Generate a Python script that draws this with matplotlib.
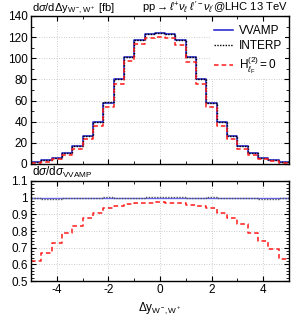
import matplotlib
matplotlib.use("Agg")
import matplotlib.pyplot as plt
import numpy as np
from matplotlib.ticker import MultipleLocator

# bin edges of Delta y (W-, W+)
edges = np.arange(-5.0, 5.01, 0.4)

# d sigma / d Delta y [fb]
vvamp = [1.5, 3.5, 6.0, 10.5, 17.0, 26.5, 40.0, 58.0, 80.0, 101.0, 117.0, 123.0, 124.0,
         123.0, 117.0, 101.0, 80.0, 58.0, 40.0, 26.5, 17.0, 10.5, 6.0, 3.5, 1.5]
interp = [1.5, 3.5, 6.0, 10.5, 17.0, 26.4, 39.8, 58.2, 80.0, 101.0, 117.2, 123.3, 124.3,
          123.3, 117.2, 101.0, 80.2, 57.7, 39.8, 26.5, 17.0, 10.4, 6.0, 3.5, 1.5]
h2zero = [0.9, 2.3, 4.4, 8.3, 14.1, 23.2, 36.2, 54.2, 76.0, 97.0, 113.1, 119.3, 120.5,
          119.3, 112.9, 96.7, 76.0, 54.2, 36.2, 23.2, 14.3, 8.2, 4.4, 2.4, 0.95]

# ratios to VVAMP
r_vvamp = [1.0] * 25
r_interp = [1.0, 0.993, 0.993, 1.0, 1.0, 0.995, 0.995, 1.003, 1.0, 1.0, 1.0, 1.002, 1.002,
            1.002, 1.002, 1.0, 1.0, 1.003, 0.995, 0.995, 1.0, 1.0, 0.993, 0.993, 1.0]
r_h2zero = [0.62, 0.67, 0.73, 0.79, 0.83, 0.875, 0.905, 0.935, 0.95, 0.96, 0.967, 0.97, 0.972,
            0.97, 0.965, 0.957, 0.95, 0.935, 0.905, 0.875, 0.84, 0.785, 0.74, 0.69, 0.635]

plt.rcParams['font.family'] = ['Liberation Sans', 'DejaVu Sans']
plt.rcParams['font.size'] = 8
plt.rcParams['mathtext.fontset'] = 'custom'
plt.rcParams['mathtext.rm'] = 'Liberation Sans'
plt.rcParams['mathtext.it'] = 'Liberation Sans:italic'
plt.rcParams['mathtext.bf'] = 'Liberation Sans:bold'
plt.rcParams['mathtext.sf'] = 'Liberation Sans'
plt.rcParams['mathtext.fallback'] = 'stixsans'

fig = plt.figure(figsize=(3.01, 3.16), dpi=100)
W, H = 301.0, 316.0
ax1 = fig.add_axes([31 / W, 1 - 164 / H, 258 / W, 148 / H])
ax2 = fig.add_axes([31 / W, 1 - 281 / H, 258 / W, 100 / H])

def stairs(ax, vals, **kw):
    v = list(vals) + [vals[-1]]
    return ax.step(edges, v, where='post', **kw)

blue = '#1a1acc'
stairs(ax1, vvamp, color=blue, lw=1.1, label='VVAMP')
stairs(ax1, interp, color='black', lw=1.0, ls=(0, (1, 1)), label='INTERP')
stairs(ax1, h2zero, color='#ff1a1a', lw=1.1, ls=(0, (3, 2)),
       label=r'$\mathrm{H}^{(2)}_{\ell_{\mathrm{F}}}=0$')

stairs(ax2, r_vvamp, color='#6666ee', lw=1.0)
stairs(ax2, r_interp, color='#555555', lw=1.0, ls=(0, (1, 1)))
stairs(ax2, r_h2zero, color='#ff1a1a', lw=1.1, ls=(0, (3, 2)))

for ax in (ax1, ax2):
    ax.set_xlim(-5, 5)
    ax.xaxis.set_major_locator(MultipleLocator(2))
    ax.xaxis.set_minor_locator(MultipleLocator(1))
    ax.tick_params(which='both', direction='in', top=True, right=True, labelsize=8.5, pad=2.5)
    ax.tick_params(which='major', length=3.5)
    ax.tick_params(which='minor', length=2)
    ax.grid(True, which='major', color='#bbbbbb', ls=(0, (1, 2)), lw=0.6)
    for s in ax.spines.values():
        s.set_linewidth(1.0)

ax1.set_ylim(0, 140)
ax1.yaxis.set_major_locator(MultipleLocator(20))
ax1.yaxis.set_minor_locator(MultipleLocator(10))
ax1.tick_params(labelbottom=False)

ax2.set_ylim(0.5, 1.1)
ax2.yaxis.set_major_locator(MultipleLocator(0.1))
ax2.yaxis.set_minor_locator(MultipleLocator(0.02))
ax2.set_yticks([0.5, 0.6, 0.7, 0.8, 0.9, 1.0, 1.1])
ax2.set_yticklabels(['0.5', '0.6', '0.7', '0.8', '0.9', '1', '1.1'])
ax2.set_xticks([-4, -2, 0, 2, 4])
ax2.set_xticklabels(['-4', '-2', '0', '2', '4'])
ax2.set_xlabel(r'$\Delta\mathrm{y}_{\mathrm{W^-\!,W^+}}$', labelpad=3, fontsize=8.5)

leg = ax1.legend(loc='upper right', bbox_to_anchor=(1.0, 0.985), frameon=True, fancybox=False,
                 edgecolor='none', framealpha=1.0, fontsize=8.5, handlelength=1.6,
                 handletextpad=0.5, labelspacing=0.2, borderpad=0.3, borderaxespad=0.3)

fig.text(32 / W, 1 - 11 / H, r'd$\sigma$/d$\Delta$y$_{\mathrm{W^-\!,W^+}}$ [fb]',
         ha='left', va='baseline', fontsize=8)
fig.text(288 / W, 1 - 11 / H,
         r'pp$\rightarrow\ell^{+}\nu_{\ell}\ \ell^{\prime-}\nu_{\ell^{\prime}}$@LHC 13 TeV',
         ha='right', va='baseline', fontsize=8)
fig.text(32 / W, 1 - 176 / H, r'd$\sigma$/d$\sigma_{\mathrm{VVAMP}}$',
         ha='left', va='baseline', fontsize=8.5)

fig.savefig('out.png', dpi=100)
